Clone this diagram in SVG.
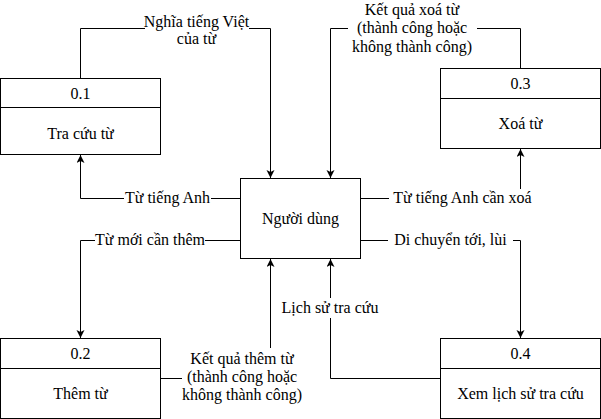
<svg xmlns="http://www.w3.org/2000/svg" width="601" height="419" viewBox="0 0 601 419">
<style>
  .box { fill: #ffffff; stroke: #000000; stroke-width: 1; }
  .div { stroke: #000000; stroke-width: 1; fill: none; }
  .edge { fill: none; stroke: #000000; stroke-width: 1; marker-end: url(#arrow); }
  .t { font-family: "Liberation Serif", "Times New Roman", serif; font-size: 16px; fill: #000000; text-anchor: middle; }
  .bg { fill: #ffffff; stroke: none; }
</style>
<defs>
  <marker id="arrow" markerUnits="userSpaceOnUse" markerWidth="10" markerHeight="10" refX="8" refY="4" orient="auto">
    <path d="M0,0 L8,4 L0,8 L2,4 Z" fill="#000000"/>
  </marker>
</defs>
<rect width="601" height="419" fill="#ffffff"/>

<g id="connectors">
  <path class="edge" d="M80.5,78.5 V28.5 H270.5 V178"/>
  <path class="edge" d="M240.5,198.5 H80.5 V155"/>
  <path class="edge" d="M240.5,240.5 H80.5 V338"/>
  <path class="edge" d="M160.5,378.5 H270.5 V259"/>
  <path class="edge" d="M520.5,68.5 V28.5 H330.5 V178"/>
  <path class="edge" d="M360.5,198.5 H520.5 V149"/>
  <path class="edge" d="M360.5,240.5 H520.5 V338"/>
  <path class="edge" d="M440.5,378.5 H330.5 V259"/>

  <g id="label-nghia">
    <rect class="bg" x="145" y="12" width="104" height="36"/>
    <text class="t" x="196.5" y="27">Nghĩa tiếng Việt</text>
    <text class="t" x="196.5" y="44">của từ</text>
  </g>
  <g id="label-ketqua-xoa">
    <rect class="bg" x="348" y="0" width="129" height="56"/>
    <text class="t" x="412" y="15">Kết quả xoá từ</text>
    <text class="t" x="412" y="33">(thành công hoặc</text>
    <text class="t" x="412" y="51.5">không thành công)</text>
  </g>
  <g id="label-tu-tieng-anh">
    <rect class="bg" x="124" y="189" width="87" height="18"/>
    <text class="t" x="167.5" y="203">Từ tiếng Anh</text>
  </g>
  <g id="label-tu-moi">
    <rect class="bg" x="95" y="231" width="110" height="18"/>
    <text class="t" x="150" y="245">Từ mới cần thêm</text>
  </g>
  <g id="label-can-xoa">
    <rect class="bg" x="389" y="189" width="147" height="18"/>
    <text class="t" x="462.5" y="203">Từ tiếng Anh cần xoá</text>
  </g>
  <g id="label-di-chuyen">
    <rect class="bg" x="388" y="231" width="125" height="18"/>
    <text class="t" x="450.5" y="245">Di chuyển tới, lùi</text>
  </g>
  <g id="label-ketqua-them">
    <rect class="bg" x="182" y="348" width="121" height="58"/>
    <text class="t" x="242" y="363.5">Kết quả thêm từ</text>
    <text class="t" x="242" y="382">(thành công hoặc</text>
    <text class="t" x="242" y="400">không thành công)</text>
  </g>
  <g id="label-lich-su">
    <rect class="bg" x="281" y="298" width="98" height="20"/>
    <text class="t" x="330" y="313">Lịch sử tra cứu</text>
  </g>
</g>

<g id="node-nguoi-dung">
  <rect class="box" x="240.5" y="178.5" width="120" height="80"/>
  <text class="t" x="300.5" y="223.5">Người dùng</text>
</g>

<g id="node-0-1">
  <rect class="box" x="0.5" y="78.5" width="160" height="76"/>
  <line class="div" x1="0.5" y1="107.5" x2="160.5" y2="107.5"/>
  <text class="t" x="80.5" y="99">0.1</text>
  <text class="t" x="80.5" y="139">Tra cứu từ</text>
</g>

<g id="node-0-3">
  <rect class="box" x="440.5" y="68.5" width="160" height="80"/>
  <line class="div" x1="440.5" y1="98.5" x2="600.5" y2="98.5"/>
  <text class="t" x="520.5" y="89">0.3</text>
  <text class="t" x="520.5" y="129">Xoá từ</text>
</g>

<g id="node-0-2">
  <rect class="box" x="0.5" y="338.5" width="160" height="80"/>
  <line class="div" x1="0.5" y1="368.5" x2="160.5" y2="368.5"/>
  <text class="t" x="80.5" y="359">0.2</text>
  <text class="t" x="80.5" y="399">Thêm từ</text>
</g>

<g id="node-0-4">
  <rect class="box" x="440.5" y="338.5" width="160" height="80"/>
  <line class="div" x1="440.5" y1="368.5" x2="600.5" y2="368.5"/>
  <text class="t" x="520.5" y="359">0.4</text>
  <text class="t" x="520.5" y="399">Xem lịch sử tra cứu</text>
</g>
</svg>
